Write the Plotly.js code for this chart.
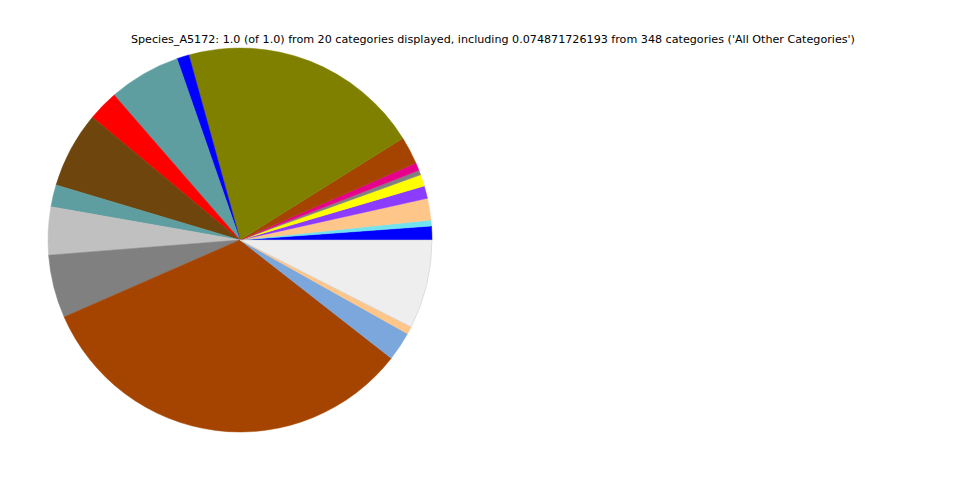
<!DOCTYPE html>
<html>
<head>
<meta charset="utf-8">
<script src="https://cdn.plot.ly/plotly-3.0.1.min.js"></script>
<style>html,body{margin:0;padding:0;background:#fff;}#chart{width:960px;height:480px;}</style>
</head>
<body>
<div id="chart"></div>
<script>
const categories = ["Cat_01","Cat_02","Cat_03","Cat_04","Cat_05","Cat_06","Cat_07","Cat_08","Cat_09","Cat_10",
  "Cat_11","Cat_12","Cat_13","Cat_14","Cat_15","Cat_16","Cat_17","Cat_18","Cat_19","All Other Categories"];
const values = [0.0116, 0.0050, 0.0183, 0.0106, 0.0097, 0.0039, 0.0067, 0.0231, 0.2042, 0.0103,
  0.0606, 0.0258, 0.0642, 0.0186, 0.0403, 0.0531, 0.3289, 0.0244, 0.0064, 0.074871726193];
const colors = ["#0000ff","#72e3ef","#ffc68a","#8c3cff","#ffff00","#808080","#e6008c","#a54400","#808000","#0000ff",
  "#5f9ea0","#ff0000","#6e450c","#5f9ea0","#c0c0c0","#808080","#a54400","#7ba7dc","#ffc68a","#eeeeee"];
const edgeColors = colors.map((c, i) => i === colors.length - 1 ? "#c8c8c8" : c);
const titleText = "Species_A5172: 1.0 (of 1.0) from 20 categories displayed, including 0.074871726193 from 348 categories ('All Other Categories')";

// Plotly (counterclockwise) places the first slice's ccw edge at rotation + first slice angle;
// shift so the first slice starts at 3 o'clock like matplotlib's default.
const total = values.reduce((a, b) => a + b, 0);
const rotation = 90 - 360 * values[0] / total;

const trace = {
  type: "pie",
  labels: categories,
  values: values,
  sort: false,
  direction: "counterclockwise",
  rotation: rotation,
  textinfo: "none",
  hoverinfo: "label+value",
  marker: {colors: colors, line: {color: edgeColors, width: 0.5}},
  domain: {x: [0.05, 0.45], y: [0.1, 0.9]}
};
const layout = {
  width: 960, height: 480,
  margin: {l: 0, r: 0, t: 0, b: 0},
  showlegend: false,
  paper_bgcolor: "#ffffff",
  font: {family: "DejaVu Sans", color: "#000000"},
  title: {text: titleText, font: {family: "DejaVu Sans", size: 11.15, color: "#000000"},
          x: 0.5135, xanchor: "center", xref: "paper", y: 1 - 39/480, yanchor: "middle", yref: "container"}
};
Plotly.newPlot("chart", [trace], layout, {displayModeBar: false, staticPlot: true});
</script>
</body>
</html>
